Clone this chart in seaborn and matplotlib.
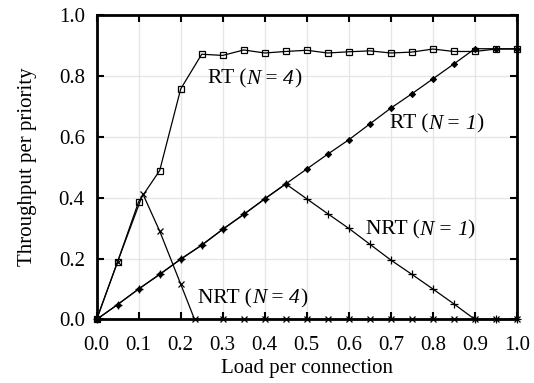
import matplotlib
matplotlib.use("Agg")
import matplotlib.pyplot as plt
from matplotlib.offsetbox import TextArea, HPacker, AnnotationBbox
import seaborn as sns
import numpy as np
import pandas as pd

# ---- data ----
load = [0.0, 0.05, 0.1, 0.15, 0.2, 0.25, 0.3, 0.35, 0.4, 0.45, 0.5,
        0.55, 0.6, 0.65, 0.7, 0.75, 0.8, 0.85, 0.9, 0.95, 1.0]
rt_n4 = [0.0, 0.19, 0.387, 0.489, 0.757, 0.871, 0.867, 0.885, 0.875, 0.880, 0.884,
         0.875, 0.879, 0.882, 0.875, 0.878, 0.888, 0.880, 0.880, 0.888, 0.888]
rt_n1 = [0.0, 0.049, 0.100, 0.148, 0.198, 0.244, 0.296, 0.345, 0.396, 0.445, 0.494,
         0.543, 0.590, 0.642, 0.694, 0.741, 0.790, 0.839, 0.889, 0.889, 0.889]
nrt_n1 = [0.0, 0.049, 0.100, 0.148, 0.198, 0.244, 0.296, 0.345, 0.396, 0.445, 0.396,
          0.347, 0.299, 0.247, 0.195, 0.148, 0.100, 0.051, 0.0, 0.0, 0.0]
load_nrt4 = [0.0, 0.05, 0.11, 0.15, 0.2, 0.233, 0.3, 0.35, 0.4, 0.45, 0.5,
             0.55, 0.6, 0.65, 0.7, 0.75, 0.8, 0.85, 0.9, 0.95, 1.0]
nrt_n4 = [0.0, 0.19, 0.412, 0.290, 0.116, 0.0, 0.0, 0.0, 0.0, 0.0, 0.0,
          0.0, 0.0, 0.0, 0.0, 0.0, 0.0, 0.0, 0.0, 0.0, 0.0]

x_ticks = [0.0, 0.1, 0.2, 0.3, 0.4, 0.5, 0.6, 0.7, 0.8, 0.9, 1.0]
y_ticks = [0.0, 0.2, 0.4, 0.6, 0.8, 1.0]

curve_labels = [("RT", "4"), ("RT", "1"), ("NRT", "1"), ("NRT", "4")]
label_pos = [(0.264, 0.79), (0.697, 0.642), (0.64, 0.294), (0.241, 0.069)]

sns.set_theme(style="whitegrid")
plt.rcParams["font.family"] = ["Liberation Serif", "DejaVu Serif"]

fig = plt.figure(figsize=(5.34, 3.83), dpi=100)
ax = fig.add_axes([0.181, 0.166, 0.787, 0.795])

kw = dict(color="black", linewidth=0.9, ax=ax, sort=False, estimator=None,
          markeredgecolor="black", clip_on=False, zorder=3)
sns.lineplot(x=load, y=rt_n4, marker="s", markersize=4.5, markerfacecolor="none",
             markeredgewidth=0.9, **kw)
sns.lineplot(x=load_nrt4, y=nrt_n4, marker="x", markersize=4.5, markeredgewidth=0.9, **kw)
sns.lineplot(x=load, y=nrt_n1, marker="+", markersize=5.5, markeredgewidth=0.9, **kw)
sns.lineplot(x=load, y=rt_n1, marker="D", markersize=3.2, markerfacecolor="black",
             markeredgewidth=0.6, **kw)

ax.set_xlim(0, 1)
ax.set_ylim(0, 1)
ax.set_xticks(x_ticks)
ax.set_yticks(y_ticks)
ax.set_xticklabels([f"{t:.1f}" for t in x_ticks])
ax.set_yticklabels([f"{t:.1f}" for t in y_ticks])
ax.set_facecolor("white")
ax.grid(True, color="#e6e6e6", linewidth=1.0)
for s in ax.spines.values():
    s.set_visible(True)
    s.set_color("black")
    s.set_linewidth(2.0)
fs = 15
ax.tick_params(direction="in", length=5, width=1.5, colors="black", labelsize=fs,
               top=True, right=True, bottom=True, left=True)
ax.tick_params(axis="x", pad=12)
ax.tick_params(axis="y", pad=8.5)
ax.tick_params(axis="both", labelcolor="black")

ax.set_xlabel("Load per connection", fontsize=fs, color="black", labelpad=3)
ax.set_ylabel("Throughput per priority", fontsize=fs, color="black", labelpad=16)

tfs = 15.5
up = dict(fontsize=tfs, color="black", family="Liberation Serif")
it = dict(fontsize=tfs, color="black", family="Liberation Serif", style="italic")
for (name, n), (px, py) in zip(curve_labels, label_pos):
    parts = [TextArea(name + " (", textprops=up),
             TextArea("N", textprops=it),
             TextArea(" = ", textprops=up),
             TextArea(n, textprops=it),
             TextArea(")", textprops=up)]
    box = HPacker(children=parts, sep=0, pad=0, align="baseline")
    ab = AnnotationBbox(box, (px, py), xycoords="data", box_alignment=(0, 0.5),
                        frameon=False, pad=0, zorder=5)
    ax.add_artist(ab)

fig.savefig("out.png", dpi=100, facecolor="white")
